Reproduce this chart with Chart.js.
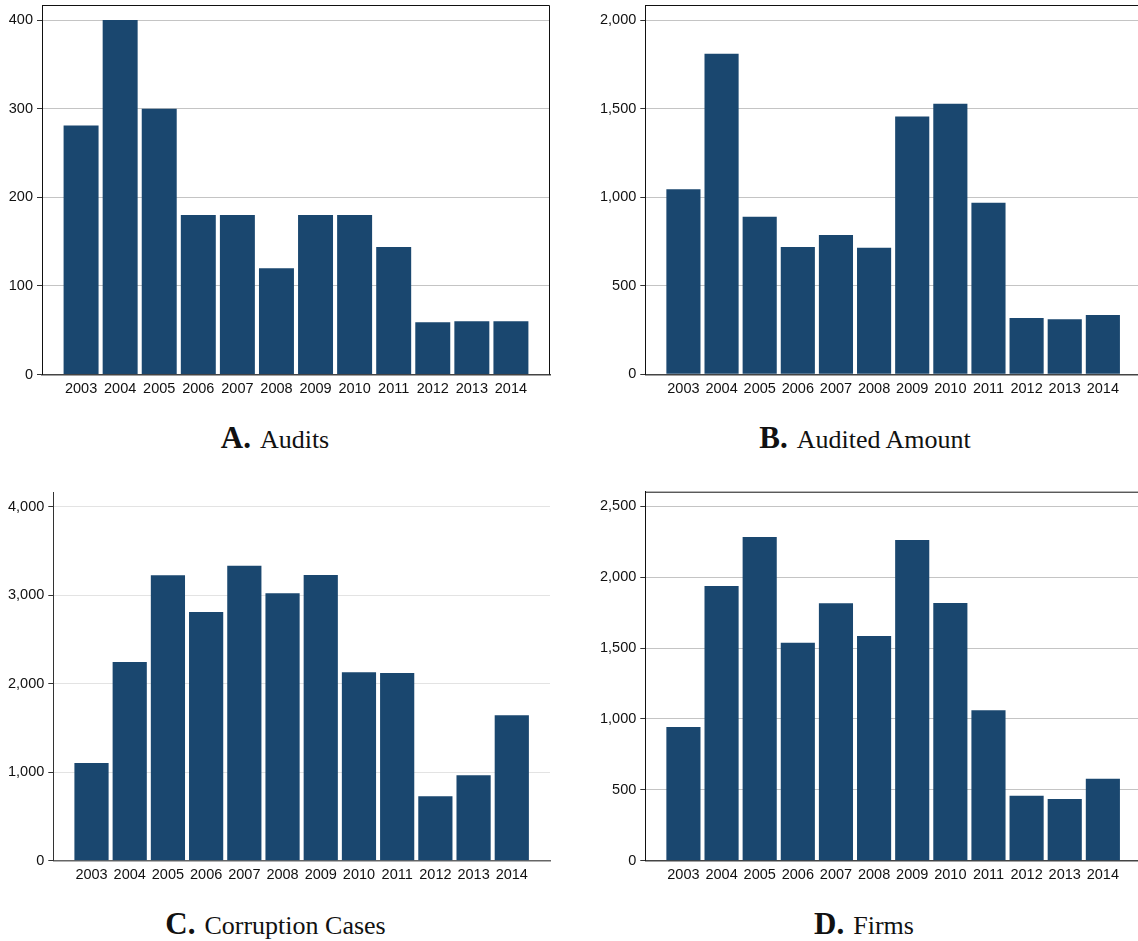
<!DOCTYPE html>
<html>
<head>
<meta charset="utf-8">
<script src="https://cdn.jsdelivr.net/npm/chart.js@4/dist/chart.umd.min.js"></script>
<style>
  html, body { margin: 0; padding: 0; background: #fff; overflow: hidden; }
  #page { position: relative; width: 1138px; height: 941px; overflow: hidden; }
  canvas { position: absolute; }
  .title {
    position: absolute; width: 600px; text-align: center; white-space: nowrap;
    font-family: "Liberation Serif", "DejaVu Serif", serif; line-height: 32px; color: #111;
  }
  .title b { font-size: 31px; font-weight: bold; margin-right: 9px; }
  .title span { font-size: 26px; }
</style>
</head>
<body>
<div id="page"></div>
<script>
// Years on the horizontal axis
const years = [2003, 2004, 2005, 2006, 2007, 2008, 2009, 2010, 2011, 2012, 2013, 2014];

// Series values per panel
const audits          = [281, 400, 300, 180, 180, 120, 180, 180, 144, 59, 60, 60];
const auditedAmount   = [1045, 1810, 889, 719, 787, 714, 1455, 1527, 968, 318, 311, 335];
const corruptionCases = [1105, 2247, 3227, 2812, 3336, 3024, 3231, 2130, 2122, 728, 966, 1644];
const firms           = [943, 1938, 2283, 1538, 1816, 1585, 2262, 1818, 1061, 459, 435, 578];

// Tick labels on each value axis
const ticksAudits     = [0, 100, 200, 300, 400];
const ticksAmount     = [0, 500, 1000, 1500, 2000];
const ticksCases      = [0, 1000, 2000, 3000, 4000];
const ticksFirms      = [0, 500, 1000, 1500, 2000, 2500];

// Panel captions
const letters  = ['A.', 'B.', 'C.', 'D.'];
const captions = ['Audits', 'Audited Amount', 'Corruption Cases', 'Firms'];

const BAR = '#1a476f';

// Layout of each panel: canvas box and plot box (page pixels)
const panels = [
  { data: audits, ticks: ticksAudits, max: 417,
    canvas: { x: 0,   y: 0,   w: 560, h: 410 }, plot: { l: 42,  t: 5,   r: 550,  b: 374.5 },
    frame: true, grid: '#c4c4c4', captionX: 275, baseline: 448 },
  { data: auditedAmount, ticks: ticksAmount, max: 2085,
    canvas: { x: 590, y: 0,   w: 560, h: 410 }, plot: { l: 645.3, t: 5, r: 1141, b: 374.3 },
    frame: true, grid: '#c4c4c4', captionX: 865, baseline: 448 },
  { data: corruptionCases, ticks: ticksCases, max: 4166,
    canvas: { x: 0,   y: 480, w: 560, h: 420 }, plot: { l: 53.3, t: 492.3, r: 550, b: 860.7 },
    frame: false, grid: '#e3e3e3', captionX: 275.5, baseline: 934 },
  { data: firms, ticks: ticksFirms, max: 2603,
    canvas: { x: 590, y: 480, w: 560, h: 420 }, plot: { l: 645.3, t: 491.7, r: 1141, b: 860.7 },
    frame: true, grid: '#c4c4c4', captionX: 864, baseline: 934 }
];

// Draws the top and right sides of the plot box
const framePlugin = {
  id: 'frame',
  afterDraw(chart, args, opts) {
    if (!opts.show) return;
    const a = chart.chartArea, ctx = chart.ctx;
    ctx.save();
    ctx.strokeStyle = '#111';
    ctx.lineWidth = 1;
    ctx.beginPath();
    ctx.moveTo(a.left, a.top + 0.5);
    ctx.lineTo(a.right - 0.5, a.top + 0.5);
    ctx.lineTo(a.right - 0.5, a.bottom);
    ctx.stroke();
    ctx.restore();
  }
};

const page = document.getElementById('page');

panels.forEach((p, i) => {
  const cv = document.createElement('canvas');
  cv.width = p.canvas.w; cv.height = p.canvas.h;
  cv.style.left = p.canvas.x + 'px'; cv.style.top = p.canvas.y + 'px';
  cv.style.width = p.canvas.w + 'px'; cv.style.height = p.canvas.h + 'px';
  page.appendChild(cv);

  const yWidth = p.plot.l - p.canvas.x;
  const xHeight = (p.canvas.y + p.canvas.h) - p.plot.b;

  new Chart(cv, {
    type: 'bar',
    data: {
      labels: years,
      datasets: [{
        data: p.data,
        backgroundColor: BAR,
        borderWidth: 0,
        categoryPercentage: 1,
        barPercentage: 0.895
      }]
    },
    options: {
      responsive: false,
      animation: false,
      events: [],
      layout: { padding: { left: 0, top: p.plot.t - p.canvas.y, right: (p.canvas.x + p.canvas.w) - p.plot.r, bottom: 0 } },
      plugins: { legend: { display: false }, tooltip: { enabled: false }, frame: { show: p.frame } },
      scales: {
        x: {
          type: 'linear', min: 2002, max: 2015, offset: false,
          grid: { display: false, drawTicks: false, offset: false },
          border: { display: true, color: p.frame ? '#444' : '#666', width: 1.5 },
          afterBuildTicks: s => { s.ticks = years.map(v => ({ value: v })); },
          afterFit: s => { s.height = xHeight; s.paddingLeft = 0; s.paddingRight = 0; },
          ticks: {
            padding: 6, color: '#111', maxRotation: 0, autoSkip: false,
            font: { family: 'Liberation Sans, Arial, sans-serif', size: 14.5 },
            callback: v => String(v)
          }
        },
        y: {
          min: 0, max: p.max,
          grid: { color: p.grid, lineWidth: 1, tickColor: '#333', tickLength: 5, drawTicks: true },
          border: { display: true, color: p.frame ? '#111' : '#333', width: 1 },
          afterBuildTicks: s => { s.ticks = p.ticks.map(v => ({ value: v })); },
          afterFit: s => { s.width = yWidth; s.paddingTop = 0; s.paddingBottom = 0; },
          ticks: {
            padding: 4, color: '#111',
            font: { family: 'Liberation Sans, Arial, sans-serif', size: 14.5 },
            callback: v => Number(v).toLocaleString('en-US')
          }
        }
      }
    },
    plugins: [framePlugin]
  });

  const t = document.createElement('div');
  t.className = 'title';
  t.style.left = (p.captionX - 300) + 'px';
  t.style.top = (p.baseline - 26.5) + 'px';
  t.innerHTML = '<b>' + letters[i] + '</b><span>' + captions[i] + '</span>';
  page.appendChild(t);
});
</script>
</body>
</html>
